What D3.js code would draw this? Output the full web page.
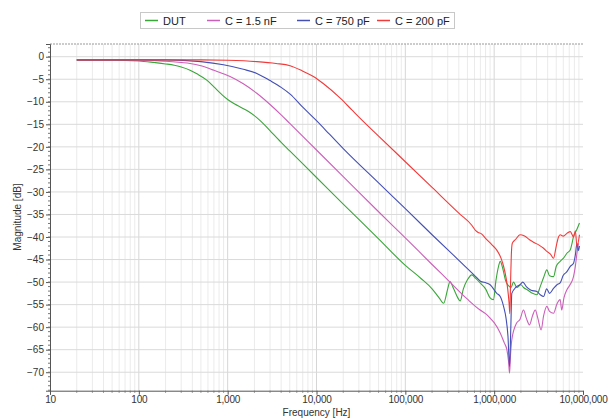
<!DOCTYPE html>
<html>
<head>
<meta charset="utf-8">
<script src="https://cdn.jsdelivr.net/npm/d3@7"></script>
<style>
  body { margin: 0; background: #fff; }
  svg { display: block; font-family: "Liberation Sans", Arial, sans-serif; }
  .tick text { fill: #333; font-size: 10px; }
</style>
</head>
<body>
<script>
// series: [frequency Hz, magnitude dB]
const dut = [[20,-0.8],[50,-0.8],[100,-0.95],[150,-1.3],[200,-1.6],[250,-1.9],[300,-2.3],[377,-3.0],[450,-3.8],[582,-5.2],[700,-6.7],[850,-8.3],[1000,-9.5],[1200,-10.5],[1400,-11.2],[1700,-12.1],[2128,-13.5],[2600,-15.1],[3200,-17.0],[4000,-19.0],[5000,-20.9],[10000,-26.8],[20000,-32.7],[50000,-40.4],[100000,-46.3],[150000,-49.2],[200000,-51.5],[240000,-53.5],[270000,-54.7],[300000,-51.5],[318000,-49.9],[350000,-51.5],[390000,-53.5],[414000,-54.2],[450000,-51.5],[500000,-49.5],[561000,-48.4],[620000,-49.2],[695000,-50.2],[800000,-51.5],[900000,-53.5],[980000,-53.9],[1050000,-49.5],[1120000,-46.5],[1170000,-45.4],[1250000,-47],[1350000,-49.8],[1450000,-50.8],[1550000,-51.2],[1650000,-50],[1800000,-51.2],[2000000,-50.6],[2140000,-51.2],[2400000,-51.8],[2700000,-52.5],[3030000,-52.8],[3300000,-51],[3600000,-49],[3920000,-47.3],[4200000,-48.6],[4660000,-48.8],[5000000,-46.5],[5530000,-45.4],[6030000,-44.7],[6590000,-43.6],[7180000,-42.9],[7500000,-41.5],[7820000,-39.9],[8500000,-38.4],[9130000,-36.9]];
const c15nF = [[20,-0.7],[100,-0.7],[200,-1.0],[300,-1.3],[377,-1.5],[500,-2.0],[700,-3.0],[1064,-4.4],[1500,-6.0],[2128,-8.1],[3000,-10.6],[4000,-12.9],[5000,-14.8],[10000,-20.7],[20000,-26.6],[50000,-34.4],[100000,-40.2],[200000,-46.1],[300000,-49.5],[500000,-53.8],[695000,-56.2],[800000,-57.0],[900000,-58.0],[1000000,-59.0],[1170000,-61.3],[1300000,-63.5],[1390000,-65],[1450000,-67.5],[1490000,-70.2],[1530000,-66],[1580000,-62.8],[1790000,-59.1],[1950000,-58.3],[2140000,-56.2],[2300000,-58],[2500000,-59.5],[2700000,-57.5],[2900000,-56.2],[3100000,-58],[3380000,-60.6],[3600000,-57.5],[3920000,-55.4],[4200000,-56.5],[4660000,-56.9],[5100000,-54.8],[5530000,-53.9],[5760000,-56.2],[6100000,-53.5],[6590000,-51.7],[7200000,-50.5],[7820000,-48.8],[8200000,-46.5],[8550000,-43.6],[8900000,-41.4]];
const c750pF = [[20,-0.7],[200,-0.7],[500,-1.1],[897,-1.8],[1500,-2.8],[2128,-3.7],[3000,-5.3],[4000,-6.8],[5050,-8.3],[7000,-11.2],[10000,-14.2],[14000,-17.2],[20000,-20.4],[50000,-28.0],[100000,-33.7],[200000,-39.5],[500000,-47.0],[600000,-48.5],[700000,-49.8],[817000,-50.2],[900000,-50.6],[1070000,-52.5],[1170000,-53.2],[1280000,-55.5],[1360000,-58.0],[1430000,-62],[1490000,-68.7],[1540000,-60],[1580000,-52.5],[1750000,-51.2],[1950000,-50.6],[2100000,-50],[2300000,-51],[2600000,-51.8],[3030000,-52.1],[3300000,-52.8],[3600000,-53.2],[3900000,-51.5],[4200000,-52.5],[4660000,-51.4],[5100000,-50.6],[5530000,-50.2],[6000000,-48.5],[6590000,-47.7],[7200000,-46.5],[7820000,-45.8],[8200000,-44],[8550000,-41.4],[8900000,-43],[9130000,-42]];
const c200pF = [[20,-0.7],[500,-0.7],[1000,-0.8],[2128,-1.1],[3500,-1.5],[5050,-2.0],[7000,-3.2],[9230,-4.4],[12000,-6.0],[18500,-9.2],[25000,-11.8],[32300,-14.0],[50000,-17.6],[100000,-23.3],[200000,-29.0],[400000,-34.7],[560000,-37.4],[620000,-38.6],[660000,-39.0],[720000,-39.3],[800000,-40.3],[950000,-41.8],[1070000,-42.9],[1200000,-44.8],[1280000,-46.6],[1360000,-49],[1420000,-51.5],[1470000,-54.5],[1500000,-57.0],[1530000,-50],[1560000,-44],[1600000,-41.4],[1750000,-40.5],[1950000,-39.5],[2200000,-39.8],[2500000,-40.6],[2800000,-41.2],[3200000,-41.8],[3600000,-42.5],[3920000,-43.2],[4300000,-43.8],[4660000,-44.7],[5000000,-42],[5300000,-40],[5530000,-39.5],[6000000,-39.8],[6590000,-39.2],[7200000,-38.8],[7820000,-40],[8200000,-38.6],[8550000,-42.1],[9130000,-39.5]];

const seriesNames = ["DUT", "C = 1.5 nF", "C = 750 pF", "C = 200 pF"];
const seriesColors = ["#3aa63a", "#cc5fba", "#4450b4", "#f23a3a"];
const seriesData = [dut, c15nF, c750pF, c200pF];

const xTicks = [10, 100, 1e3, 1e4, 1e5, 1e6, 1e7];
const yTicks = d3.range(-70, 1, 5);

const W = 608, H = 419;
const plot = {left: 50, right: 583, top: 44, bottom: 390.7};

const svg = d3.select('body').append('svg')
              .attr('width', W)
              .attr('height', H);

const x = d3.scaleLog().domain([10, 1e7]).range([plot.left, plot.right]);
const y = d3.scaleLinear().domain([-74.1, 2.82]).range([plot.bottom, plot.top]);

// grid
const minorF = [];
for (let e = 1; e < 7; e++) {
  for (let m = 2; m < 10; m++) minorF.push(m * Math.pow(10, e));
}
const grid = svg.append('g');
grid.append('g').selectAll('line').data(minorF).join('line')
    .attr('x1', d => x(d)).attr('x2', d => x(d))
    .attr('y1', plot.top).attr('y2', plot.bottom)
    .attr('stroke', '#ebebeb');
grid.append('g').selectAll('line').data(xTicks.slice(1, -1)).join('line')
    .attr('x1', d => x(d)).attr('x2', d => x(d))
    .attr('y1', plot.top).attr('y2', plot.bottom)
    .attr('stroke', '#d6d6d6');
grid.append('g').selectAll('line').data(yTicks).join('line')
    .attr('x1', plot.left).attr('x2', plot.right)
    .attr('y1', d => y(d)).attr('y2', d => y(d))
    .attr('stroke', '#dadada');

// dotted top border
svg.append('line')
   .attr('x1', plot.left).attr('x2', plot.right)
   .attr('y1', plot.top).attr('y2', plot.top)
   .attr('stroke', '#999')
   .attr('stroke-dasharray', '2,1');

// axes
const yAxis = d3.axisLeft(y).tickValues(yTicks).tickSize(4).tickPadding(2);
const gy = svg.append('g').attr('transform', `translate(${plot.left},0)`).call(yAxis);
gy.select('.domain').attr('stroke', '#555');
gy.selectAll('.tick line').attr('stroke', '#555');

svg.append('g').selectAll('line')
   .data(d3.range(-74, 3, 1))
   .join('line')
   .attr('x1', plot.left - 2).attr('x2', plot.left)
   .attr('y1', d => y(d)).attr('y2', d => y(d))
   .attr('stroke', '#777');

const xAxis = d3.axisBottom(x).tickValues(xTicks).tickFormat(d3.format(',')).tickSize(4).tickPadding(1);
const gx = svg.append('g').attr('transform', `translate(0,${plot.bottom})`).call(xAxis);
gx.select('.domain').attr('stroke', '#555');
gx.selectAll('.tick line').attr('stroke', '#555');
gx.selectAll('.tick text').attr('letter-spacing', '-0.2');

svg.append('g').selectAll('line')
   .data(minorF)
   .join('line')
   .attr('x1', d => x(d)).attr('x2', d => x(d))
   .attr('y1', plot.bottom).attr('y2', plot.bottom + 2)
   .attr('stroke', '#777');

svg.append('text')
   .attr('x', (plot.left + plot.right) / 2)
   .attr('y', 416)
   .attr('text-anchor', 'middle')
   .attr('font-size', 10)
   .attr('fill', '#333')
   .text('Frequency [Hz]');

svg.append('text')
   .attr('transform', `translate(21,217) rotate(-90)`)
   .attr('text-anchor', 'middle')
   .attr('font-size', 10)
   .attr('fill', '#333')
   .text('Magnitude [dB]');

// lines
const line = d3.line()
               .x(d => x(d[0]))
               .y(d => y(d[1]))
               .curve(d3.curveMonotoneX);

svg.append('g').selectAll('path')
   .data(seriesData)
   .join('path')
   .attr('d', line)
   .attr('fill', 'none')
   .attr('stroke', (d, i) => seriesColors[i])
   .attr('stroke-width', 1.1);

// legend
const legend = svg.append('g');
legend.append('rect')
      .attr('x', 140.5).attr('y', 12.5)
      .attr('width', 314).attr('height', 16)
      .attr('fill', '#fff')
      .attr('stroke', '#c8c8c8');
const legendX = [145, 207, 297, 377];
seriesNames.forEach((name, i) => {
  legend.append('line')
        .attr('x1', legendX[i]).attr('x2', legendX[i] + 13)
        .attr('y1', 20.5).attr('y2', 20.5)
        .attr('stroke', seriesColors[i])
        .attr('stroke-width', 1.5);
  legend.append('text')
        .attr('x', legendX[i] + 18)
        .attr('y', 24.5)
        .attr('font-size', 11)
        .attr('fill', '#222')
        .text(name);
});
</script>
</body>
</html>
